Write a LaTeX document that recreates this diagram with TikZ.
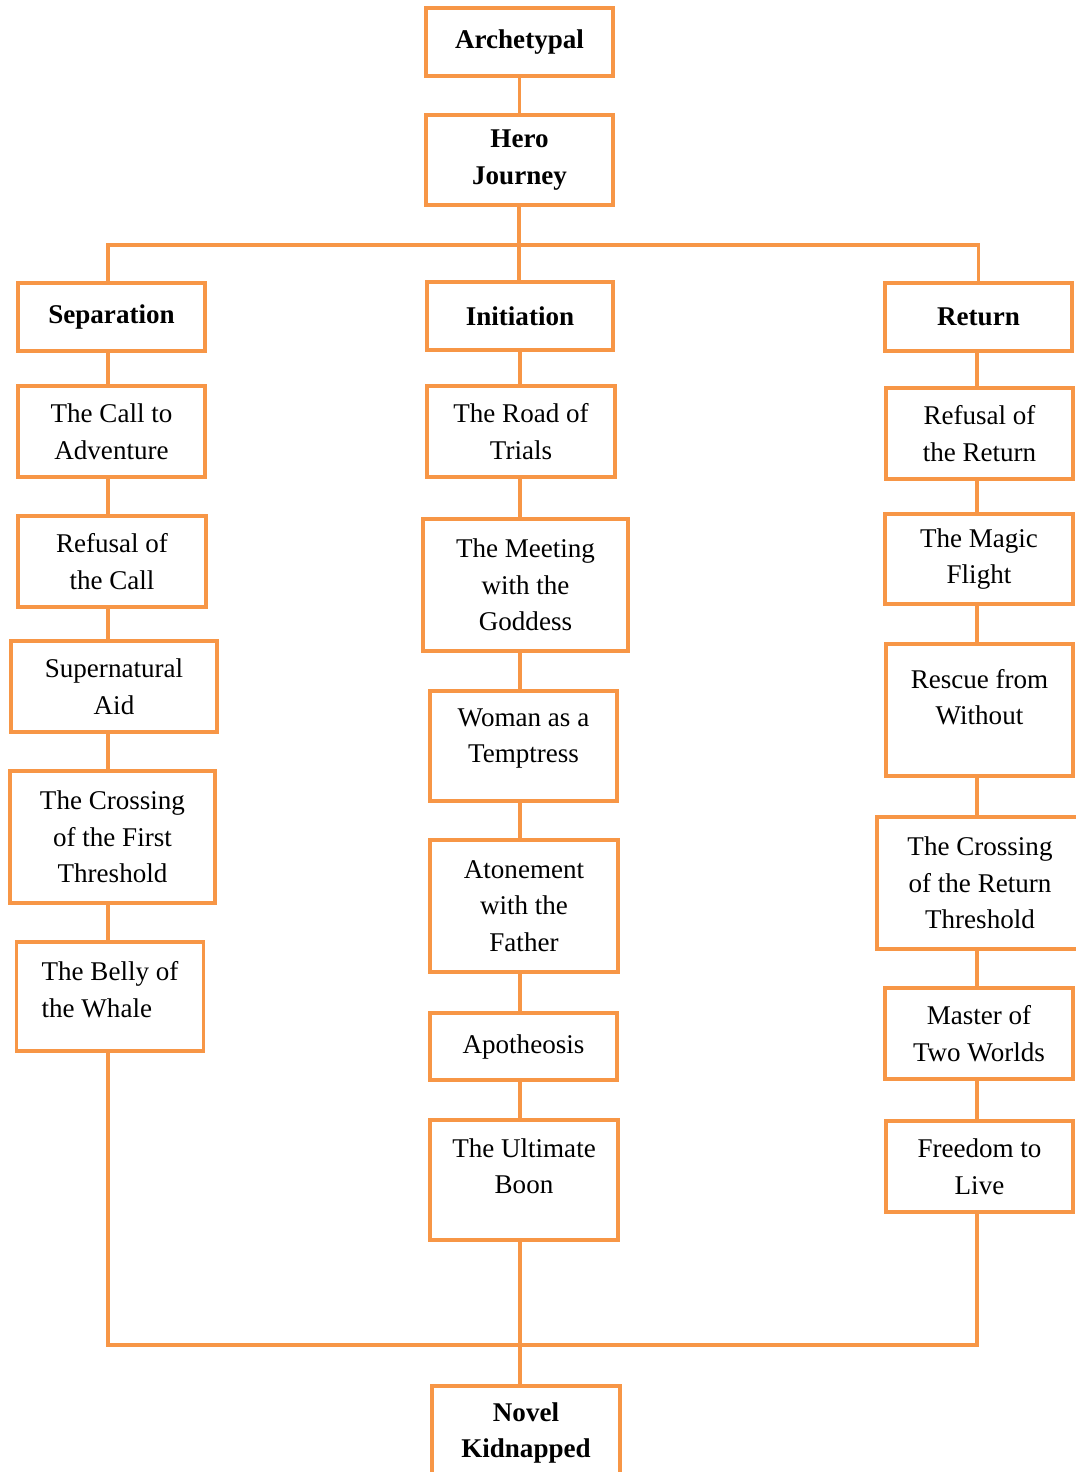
\documentclass[tikz,border=0pt]{standalone}
\usepackage{fontspec}
\setmainfont{Liberation Serif}
\usetikzlibrary{positioning,calc}
\definecolor{heroorange}{HTML}{F79646}
\tikzset{
  stage/.style={draw=heroorange,line width=2.2pt,align=center,inner sep=2pt,
    font=\fontsize{15.4}{20.8}\selectfont},
  link/.style={draw=heroorange,line width=2.1pt}
}

\begin{document}
\begin{tikzpicture}[x=0.02cm,y=-0.02cm]
\useasboundingbox (0,0) rectangle (1076,1472);

% top of the tree
\node[stage,minimum width=3.74cm,minimum height=1.36cm] (arch) at (519.5,42) {\textbf{Archetypal}};
\node[stage,minimum width=3.74cm,minimum height=1.8cm] (hero) at (519.5,160) {\textbf{Hero}\\\textbf{Journey}};

\node[stage,minimum width=3.74cm,minimum height=1.36cm] (sep) at (111.5,317) {\textbf{Separation}};
\node[stage,minimum width=3.72cm,minimum height=1.36cm] (init) at (520,316) {\textbf{Initiation}};
\node[stage,minimum width=3.74cm,minimum height=1.36cm] (ret) at (978.5,317) {\textbf{Return}};

% separation
\node[stage,minimum width=3.74cm,minimum height=1.82cm] (call) at (111.5,431.5) {The Call to\\Adventure};
\node[stage,minimum width=3.76cm,minimum height=1.82cm] (refcall) at (112,561.5) {Refusal of\\the Call};
\node[stage,minimum width=4.12cm,minimum height=1.82cm] (aid) at (114,686.5) {Supernatural\\Aid};
\node[stage,minimum width=4.1cm,minimum height=2.64cm] (firstthr) at (112.5,837) {The Crossing\\of the First\\Threshold};
\node[stage,align=left,text depth=8pt,minimum width=3.74cm,minimum height=2.18cm] (belly) at (110,996.5) {The Belly of\\the Whale};

% initiation
\node[stage,minimum width=3.76cm,minimum height=1.82cm] (road) at (521,431.5) {The Road of\\Trials};
\node[stage,minimum width=4.1cm,minimum height=2.64cm] (meet) at (525.5,585) {The Meeting\\with the\\Goddess};
\node[stage,text depth=12pt,minimum width=3.74cm,minimum height=2.2cm] (woman) at (523.5,746) {Woman as a\\Temptress};
\node[stage,minimum width=3.76cm,minimum height=2.64cm] (atone) at (524,906) {Atonement\\with the\\Father};
\node[stage,minimum width=3.74cm,minimum height=1.34cm] (apo) at (523.5,1046.5) {Apotheosis};
\node[stage,text depth=16pt,minimum width=3.76cm,minimum height=2.4cm] (boon) at (524,1180) {The Ultimate\\Boon};

% return
\node[stage,minimum width=3.74cm,minimum height=1.82cm] (refret) at (979.5,433.5) {Refusal of\\the Return};
\node[stage,minimum width=3.76cm,minimum height=1.8cm] (magic) at (979,559) {The Magic\\Flight};
\node[stage,text depth=15pt,minimum width=3.74cm,minimum height=2.64cm] (rescue) at (979.5,710) {Rescue from\\Without};
\node[stage,minimum width=4.12cm,minimum height=2.64cm] (retthr) at (980,883) {The Crossing\\of the Return\\Threshold};
\node[stage,minimum width=3.76cm,minimum height=1.82cm] (master) at (979,1033.5) {Master of\\Two Worlds};
\node[stage,minimum width=3.74cm,minimum height=1.82cm] (freedom) at (979.5,1166.5) {Freedom to\\Live};

% bottom
\node[stage,minimum width=3.76cm,minimum height=1.88cm] (novel) at (526,1433) {\textbf{Novel}\\\textbf{Kidnapped}};

\coordinate (topbus) at (519,245);
\coordinate (botbus) at (520,1345);
\coordinate (colL) at (108,0);
\coordinate (colM) at (520,0);
\coordinate (colR) at (977,0);

\draw[link] (arch) -- (hero);
\draw[link] (hero.south -| topbus) -- (init.north -| topbus);
\draw[link] (sep.north -| colL) |- (topbus) -| (ret.north);
\foreach \a/\b/\c in {sep/call/colL,call/refcall/colL,refcall/aid/colL,aid/firstthr/colL,firstthr/belly/colL,
  init/road/colM,road/meet/colM,meet/woman/colM,woman/atone/colM,atone/apo/colM,apo/boon/colM,
  ret/refret/colR,refret/magic/colR,magic/rescue/colR,rescue/retthr/colR,retthr/master/colR,master/freedom/colR}
  \draw[link] (\a.south -| \c) -- (\b.north -| \c);
\draw[link] (belly.south -| colL) |- (botbus) -| (freedom.south -| colR);
\draw[link] (boon.south -| colM) -- (novel.north -| colM);

\end{tikzpicture}
\end{document}
